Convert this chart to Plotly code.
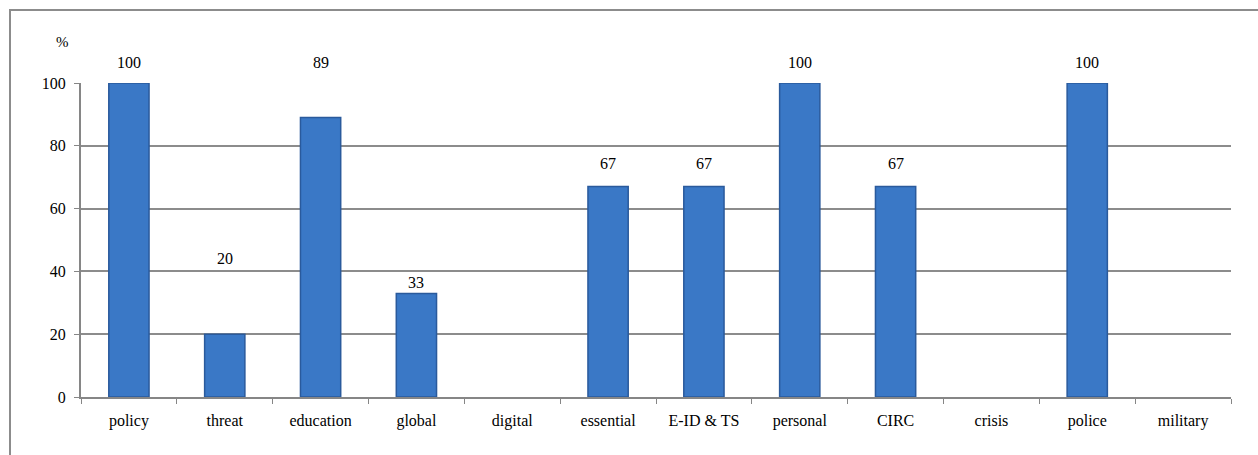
import plotly.graph_objects as go

categories = ["policy", "threat", "education", "global", "digital", "essential",
              "E-ID & TS", "personal", "CIRC", "crisis", "police", "military"]
values = [100, 20, 89, 33, None, 67, 67, 100, 67, None, 100, None]
y_ticks = [0, 20, 40, 60, 80, 100]

W, H = 1258, 455
L, R, T, B = 81, 27, 83, 58
pw, ph = W - L - R, H - T - B
FONT = "'Liberation Serif', 'Times New Roman', Times, serif"

# pixel offset of each value label above its bar top (labels were hand-placed in the original)
label_shift = {"policy": 21, "threat": 76, "education": 55, "global": 11,
               "essential": 23, "E-ID & TS": 23, "personal": 21, "CIRC": 23, "police": 21}

fig = go.Figure()
fig.add_trace(go.Bar(
    x=categories, y=values, width=0.42,
    marker=dict(color="#3A78C6", line=dict(color="#2A5A9C", width=1.5)),
    hoverinfo="skip",
))

annotations = []
for c, v in zip(categories, values):
    if v is None:
        continue
    annotations.append(dict(
        x=c, y=v, xref="x", yref="y", text=str(v), showarrow=False,
        yshift=label_shift.get(c, 20), xanchor="center", yanchor="middle",
        font=dict(family=FONT, size=16, color="#000"),
    ))
annotations.append(dict(
    text="%", x=(62 - L) / pw, y=(H - B - 42) / ph, xref="paper", yref="paper",
    xanchor="center", yanchor="middle",
    showarrow=False, font=dict(family=FONT, size=15, color="#000"),
))

fig.update_layout(
    width=W, height=H,
    margin=dict(l=L, r=R, t=T, b=B),
    paper_bgcolor="white", plot_bgcolor="white",
    showlegend=False,
    font=dict(family=FONT, size=16, color="#000"),
    xaxis=dict(
        type="category", range=[-0.5, len(categories) - 0.5],
        tickson="boundaries", ticks="outside", ticklen=5,
        tickcolor="#868686", showline=True, linecolor="#868686", linewidth=2,
        showgrid=False, tickfont=dict(family=FONT, size=16), ticklabelstandoff=8,
    ),
    yaxis=dict(
        range=[0, 100], tickvals=y_ticks, ticks="outside", ticklen=5,
        tickcolor="#868686", showline=True, linecolor="#868686", linewidth=2,
        showgrid=True, gridcolor="#8C8C8C", gridwidth=1.5, zeroline=False,
        tickfont=dict(family=FONT, size=16), ticklabelstandoff=5,
    ),
    annotations=annotations,
    shapes=[dict(
        type="rect", xref="paper", yref="paper",
        x0=(10 - L) / pw, x1=(1275 - L) / pw,
        y0=(H - B - 470) / ph, y1=(H - B - 10) / ph,
        line=dict(color="#8C8C8C", width=2), layer="below",
    )],
)

fig.write_html("out.html")
